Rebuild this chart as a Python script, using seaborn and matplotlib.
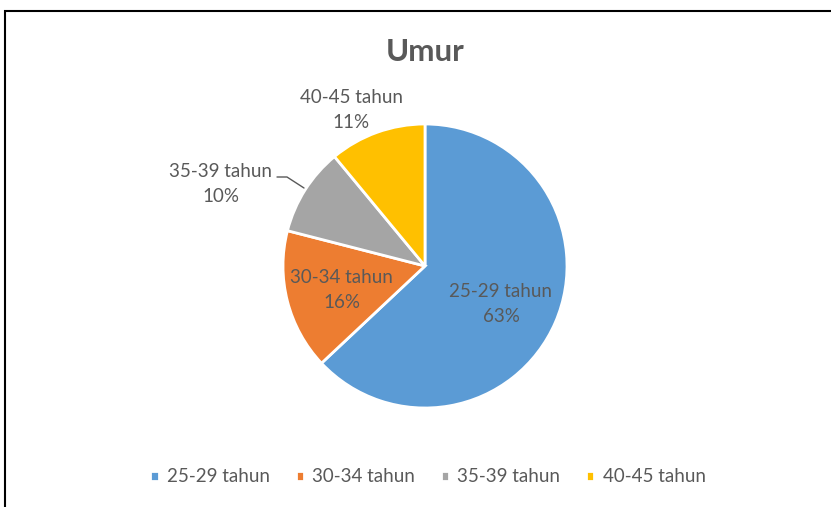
import matplotlib.pyplot as plt
import seaborn as sns
from matplotlib.patches import Rectangle

# ---------------------------------- data ----------------------------------
kategori = ['25-29 tahun', '30-34 tahun', '35-39 tahun', '40-45 tahun']
persen = [63, 16, 10, 11]
warna = ['#5B9BD5', '#ED7D31', '#A5A5A5', '#FFC000']

sns.set_theme(style='white')
plt.rcParams['font.family'] = ['Lato', 'DejaVu Sans']
teks = '#595959'

fig = plt.figure(figsize=(8.31, 5.07), dpi=100)
# pie axes: center (425,266) px, radius 142 px
ax = fig.add_axes([283 / 831, 99 / 507, 284 / 831, 284 / 507])
palet = sns.color_palette(warna)
wedges, _ = ax.pie(persen, colors=palet, startangle=90, counterclock=False,
                   radius=1, wedgeprops=dict(edgecolor='white', linewidth=2))
ax.set_xlim(-1, 1)
ax.set_ylim(-1, 1)
ax.set_aspect('equal')
ax.axis('off')

# data labels (category + percent)
posisi = [(0.535, -0.268), (-0.585, -0.169), (-1.437, 0.577), (-0.521, 1.099)]
for k, p, (x, y) in zip(kategori, persen, posisi):
    ax.text(x, y, f'{k}\n{p}%', ha='center', va='center', fontsize=13.5,
            color=teks, linespacing=1.55, clip_on=False)

# leader line for 35-39
lx = [(277 - 425) / 142, (287 - 425) / 142, (304 - 425) / 142]
ly = [(266 - 177) / 142, (266 - 177) / 142, (266 - 188) / 142]
ax.plot(lx, ly, color=teks, lw=1, clip_on=False)

fig.text(425 / 831, (507 - 52) / 507, 'Umur', ha='center', va='center',
         fontsize=22.5, fontweight='bold', color=teks)

fig.legend(wedges, kategori, loc='center', bbox_to_anchor=(428 / 831, (507 - 477) / 507),
           ncol=4, frameon=False, fontsize=13.5, labelcolor=teks,
           handlelength=0.45, handleheight=0.45, handletextpad=0.45, columnspacing=1.35)

# chart frame (left + top edges visible)
fig.add_artist(Rectangle((5 / 831, -0.2), 1.5, 0.2 + (507 - 11) / 507,
                         transform=fig.transFigure, fill=False,
                         edgecolor='black', linewidth=1.5))

fig.savefig('out.png', dpi=100)
